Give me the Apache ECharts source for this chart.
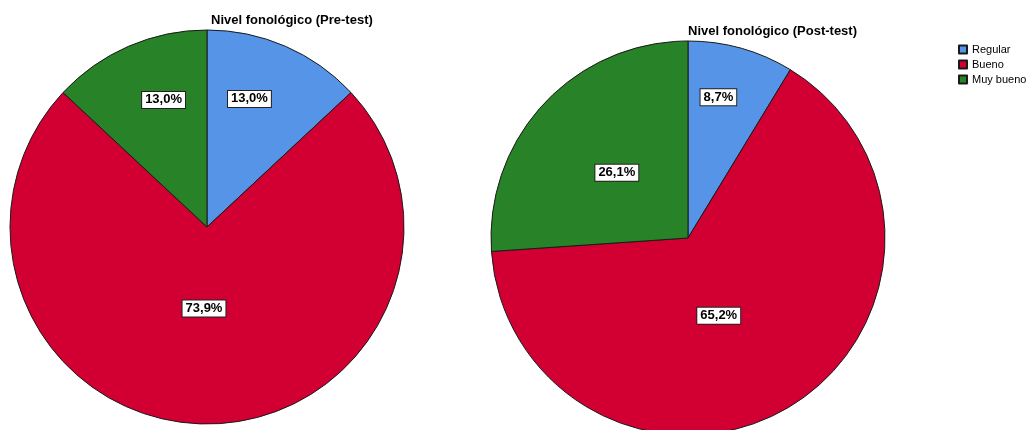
<!DOCTYPE html>
<html>
<head>
<meta charset="utf-8">
<script src="https://cdn.jsdelivr.net/npm/echarts@6/dist/echarts.min.js"></script>
<style>
html,body{margin:0;padding:0;background:#fff;}
#chart{width:1028px;height:430px;}
</style>
</head>
<body>
<div id="chart"></div>
<script>
// ---- data ----
var categories = ['Regular', 'Bueno', 'Muy bueno'];
var preTestCounts = [3, 17, 3];
var postTestCounts = [2, 15, 6];
var titles = ['Nivel fonológico (Pre-test)', 'Nivel fonológico (Post-test)'];

// ---- style ----
var colors = ['#5594e6', '#d20032', '#288228'];
var fontFam = '"Liberation Sans", Arial, sans-serif';
// label nudges to mimic the original placement (style only)
var preOffsets = [[2, -35], [-3, -20], [-3, -34]];
var postOffsets = [[3, -43], [-22, -9], [3, 4]];

function fmtPct(v, arr) {
  var s = arr.reduce(function (a, b) { return a + b; }, 0);
  return (v / s * 100).toFixed(1).replace('.', ',') + '%';
}

function buildData(arr, offsets) {
  return categories.map(function (c, i) {
    return {
      name: c,
      value: arr[i],
      itemStyle: { color: colors[i] },
      label: { offset: offsets[i] }
    };
  });
}

function makeSeries(arr, offsets, center) {
  return {
    type: 'pie',
    center: center,
    radius: 197,
    startAngle: 90,
    clockwise: true,
    avoidLabelOverlap: false,
    silent: true,
    itemStyle: { borderColor: '#1a1a1a', borderWidth: 1 },
    label: {
      show: true,
      position: 'inside',
      formatter: function (p) { return fmtPct(p.value, arr); },
      color: '#000',
      fontFamily: fontFam,
      fontSize: 13,
      fontWeight: 'bold',
      backgroundColor: '#fff',
      borderColor: '#222',
      borderWidth: 1,
      padding: [2, 3, 1, 3]
    },
    labelLine: { show: false },
    emphasis: { disabled: true },
    data: buildData(arr, offsets)
  };
}

var chart = echarts.init(document.getElementById('chart'), null, { renderer: 'canvas' });
chart.setOption({
  animation: false,
  backgroundColor: '#fff',
  title: [
    { text: titles[0], left: 206, top: 9, textStyle: { fontFamily: fontFam, fontSize: 13, fontWeight: 'bold', color: '#000' } },
    { text: titles[1], left: 683, top: 20, textStyle: { fontFamily: fontFam, fontSize: 13, fontWeight: 'bold', color: '#000' } }
  ],
  legend: {
    orient: 'vertical',
    left: 953,
    top: 39,
    icon: 'rect',
    itemWidth: 8,
    itemHeight: 8,
    itemGap: 4,
    selectedMode: false,
    textStyle: { fontFamily: fontFam, fontSize: 11, color: '#000' },
    data: categories
  },
  series: [
    makeSeries(preTestCounts, preOffsets, [207, 227]),
    makeSeries(postTestCounts, postOffsets, [688, 238])
  ]
});
</script>
</body>
</html>
